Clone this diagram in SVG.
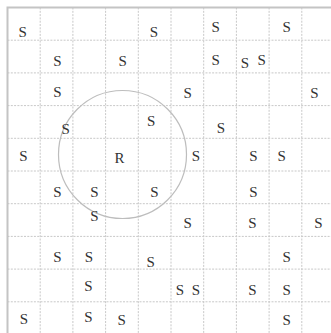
<svg xmlns="http://www.w3.org/2000/svg" width="331" height="333" viewBox="0 0 331 333">
<style>
.grid{stroke:#c8c8c8;stroke-width:1;stroke-dasharray:2,1.3;fill:none}
.border{stroke:#c4c4c4;stroke-width:2;fill:none}
.range{stroke:#bdbdbd;stroke-width:1.2;fill:none}
text{font-family:"Liberation Serif","Times New Roman",serif;font-size:15px;fill:#333;text-anchor:middle}
</style>
<rect width="331" height="333" fill="#fff"/>
<g id="grid">
<path class="grid" d="M40.2 7.5V333M72.9 7.5V333M105.6 7.5V333M138.3 7.5V333M171 7.5V333M203.7 7.5V333M236.4 7.5V333M269.1 7.5V333M301.8 7.5V333"/>
<path class="grid" d="M7.5 40.2H331M7.5 72.9H331M7.5 105.6H331M7.5 138.3H331M7.5 171H331M7.5 203.7H331M7.5 236.4H331M7.5 269.1H331M7.5 301.8H331"/>
<path class="border" d="M7.5 333V7.5H331"/>
</g>
<g id="range"><circle class="range" cx="122.5" cy="154.5" r="64"/></g>
<g id="R"><text x="119.5" y="162.5">R</text></g>
<g id="s1"><text x="22.7" y="36.5">S</text></g>
<g id="s2"><text x="154" y="36.5">S</text></g>
<g id="s3"><text x="215.7" y="31.5">S</text></g>
<g id="s4"><text x="286.7" y="31.5">S</text></g>
<g id="s5"><text x="57.3" y="66">S</text></g>
<g id="s6"><text x="122.7" y="66">S</text></g>
<g id="s7"><text x="215.7" y="65">S</text></g>
<g id="s8"><text x="245" y="68.3">S</text></g>
<g id="s9"><text x="261.7" y="65">S</text></g>
<g id="s10"><text x="57.3" y="97">S</text></g>
<g id="s11"><text x="187.7" y="98">S</text></g>
<g id="s12"><text x="314.3" y="98">S</text></g>
<g id="s13"><text x="65.7" y="134">S</text></g>
<g id="s14"><text x="151.2" y="126">S</text></g>
<g id="s15"><text x="221" y="133">S</text></g>
<g id="s16"><text x="23.5" y="160.5">S</text></g>
<g id="s17"><text x="196" y="160.5">S</text></g>
<g id="s18"><text x="253.3" y="160.5">S</text></g>
<g id="s19"><text x="281.7" y="160.5">S</text></g>
<g id="s20"><text x="57.3" y="197">S</text></g>
<g id="s21"><text x="94.3" y="197">S</text></g>
<g id="s22"><text x="154.3" y="197">S</text></g>
<g id="s23"><text x="253.3" y="197">S</text></g>
<g id="s24"><text x="94.3" y="221.3">S</text></g>
<g id="s25"><text x="187.7" y="228.3">S</text></g>
<g id="s26"><text x="252.3" y="228.3">S</text></g>
<g id="s27"><text x="318.3" y="228.3">S</text></g>
<g id="s28"><text x="57.3" y="262">S</text></g>
<g id="s29"><text x="89" y="262">S</text></g>
<g id="s30"><text x="150.7" y="266.5">S</text></g>
<g id="s31"><text x="286.7" y="262">S</text></g>
<g id="s32"><text x="88.5" y="290.5">S</text></g>
<g id="s33"><text x="180" y="294.5">S</text></g>
<g id="s34"><text x="196" y="294.5">S</text></g>
<g id="s35"><text x="252.3" y="294.5">S</text></g>
<g id="s36"><text x="286.7" y="294.5">S</text></g>
<g id="s37"><text x="24" y="324">S</text></g>
<g id="s38"><text x="88.5" y="322.3">S</text></g>
<g id="s39"><text x="121.7" y="324.5">S</text></g>
<g id="s40"><text x="286.7" y="324.5">S</text></g>
</svg>
